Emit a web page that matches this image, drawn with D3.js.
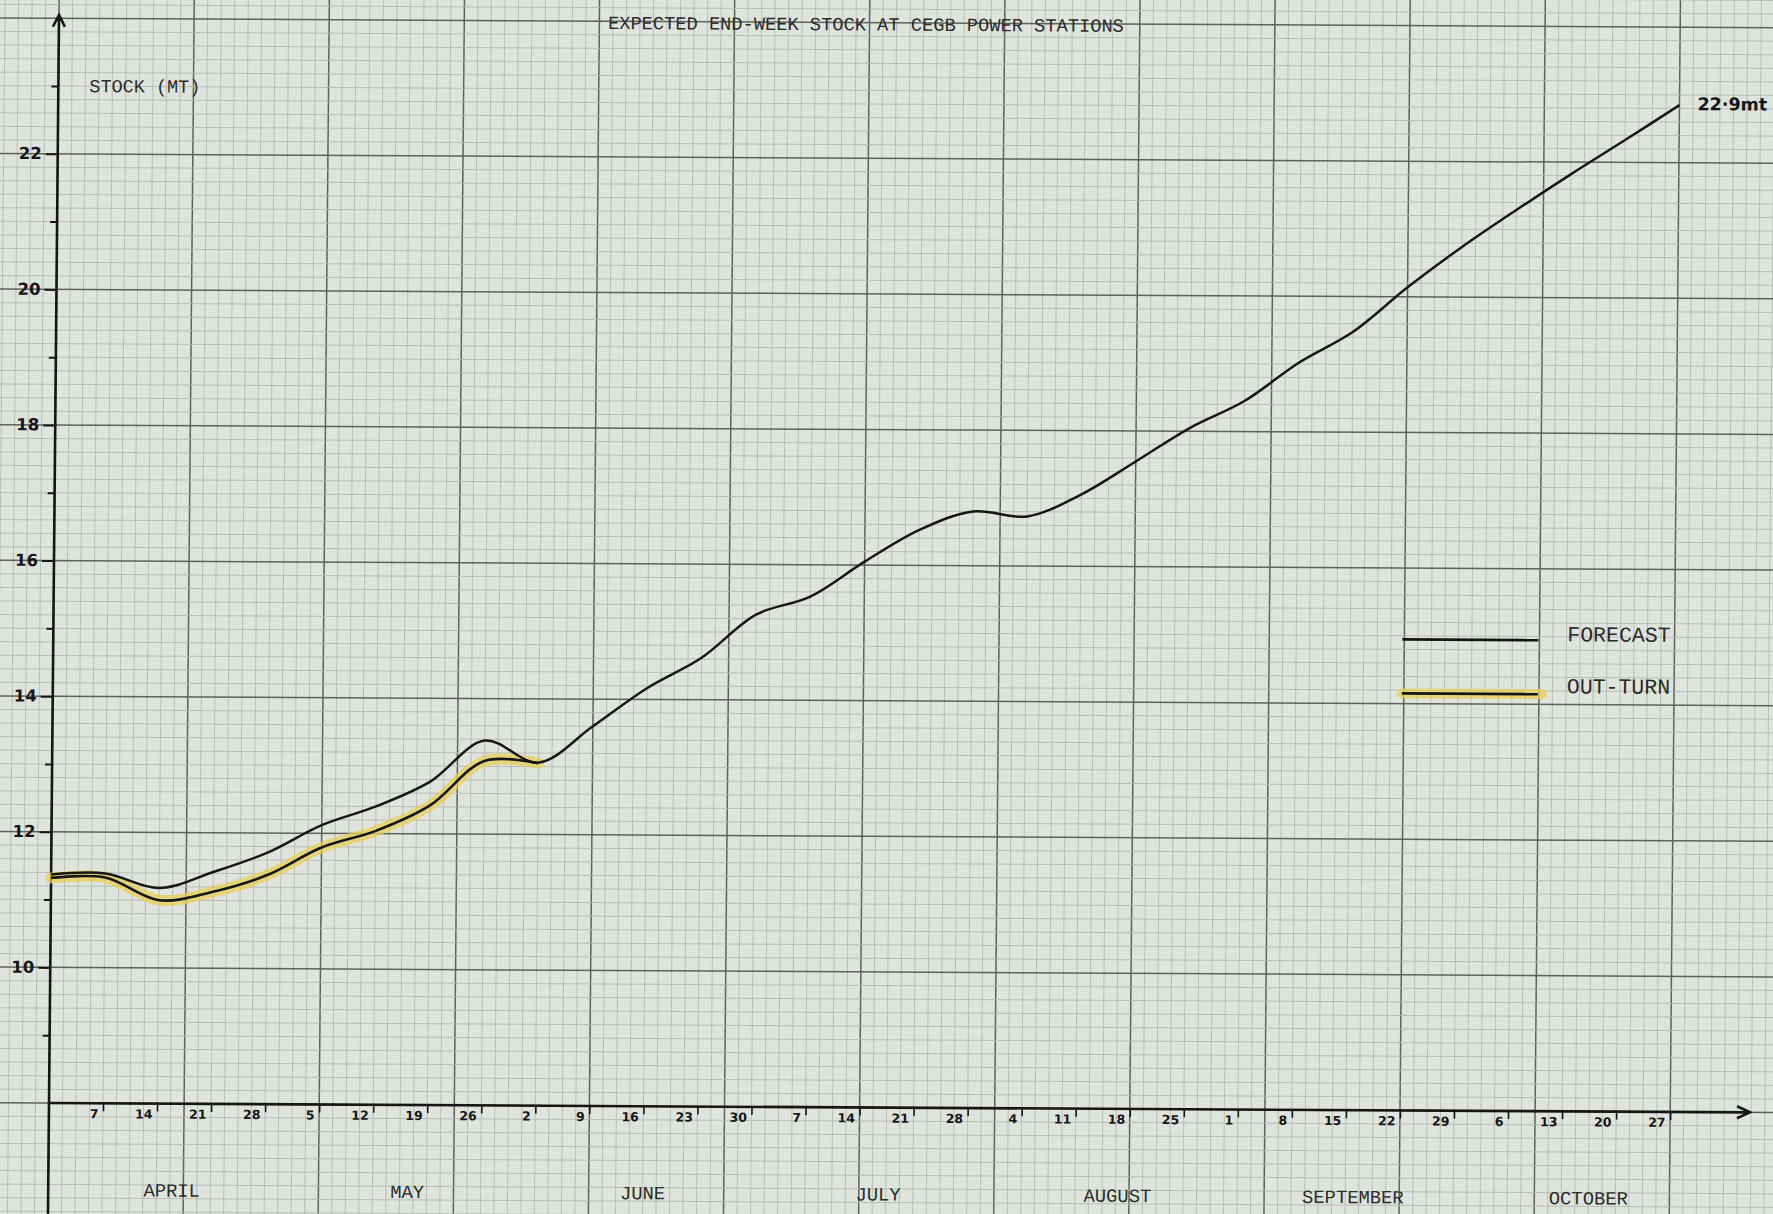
<!DOCTYPE html>
<html>
<head>
<meta charset="utf-8">
<script src="https://cdn.jsdelivr.net/npm/d3@7/dist/d3.min.js"></script>
<style>
  html, body { margin: 0; padding: 0; background: #dfe5dd; }
  svg { display: block; }
</style>
</head>
<body>
<div id="chart"></div>
<script>

// week-ending dates along the bottom axis
var weeks = ["1985-03-31", "1985-04-07", "1985-04-14", "1985-04-21", "1985-04-28",
  "1985-05-05", "1985-05-12", "1985-05-19", "1985-05-26", "1985-06-02",
  "1985-06-09", "1985-06-16", "1985-06-23", "1985-06-30", "1985-07-07",
  "1985-07-14", "1985-07-21", "1985-07-28", "1985-08-04", "1985-08-11",
  "1985-08-18", "1985-08-25", "1985-09-01", "1985-09-08", "1985-09-15",
  "1985-09-22", "1985-09-29", "1985-10-06", "1985-10-13", "1985-10-20",
  "1985-10-27"];

// expected end-week stock (million tonnes)
var forecast = [11.37, 11.39, 11.18, 11.42, 11.71, 12.12, 12.40, 12.77, 13.38, 13.06,
  13.60, 14.17, 14.62, 15.26, 15.53, 16.05, 16.52, 16.80, 16.73, 17.06,
  17.55, 18.05, 18.45, 19.02, 19.48, 20.14, 20.74, 21.29, 21.82, 22.33,
  22.85];

// actual out-turn so far
var outturn = [11.32, 11.33, 11.00, 11.13, 11.38, 11.79, 12.04, 12.42, 13.08, 13.05];

var months = ["APRIL", "MAY", "JUNE", "JULY", "AUGUST", "SEPTEMBER", "OCTOBER"];
var yLabels = [10, 12, 14, 16, 18, 20, 22];
var yMinor = [9, 11, 13, 15, 17, 19, 21, 23];
var endLabel = "22·9mt";

var drawGraph = function(){

  var width = 1773, height = 1214;
  var typeFont = "'Liberation Mono', 'DejaVu Sans Mono', monospace";
  var handFont = "'DejaVu Sans', sans-serif";
  var ink = "#161616";

  // graph paper: 1 small square ~13.5px, 4 squares a week, 5 squares a unit
  var mmX = 13.51, mmY = 13.56;

  var parse = d3.timeParse("%Y-%m-%d");
  var dates = weeks.map(parse);

  var x = d3.scaleTime()
    .domain([dates[0], dates[dates.length - 1]])
    .range([0, (dates.length - 1) * 4 * mmX]);

  var y = d3.scaleLinear()
    .domain([8, 22])
    .range([0, -14 * 5 * mmY]);

  var svg = d3.select("#chart")
    .append("svg")
    .attr("width", width)
    .attr("height", height)
    .style("background-color", "#dfe5dd");

  // the scan is a little skewed, so the whole sheet gets the same slant
  var sheet = svg.append("g")
    .attr("transform", "matrix(1, 0.0055, -0.0092, 1, 49, 1103)");

  // paper grid
  var grid = sheet.append("g");
  d3.range(-6, 133).forEach(function(i){
    grid.append("line")
      .attr("x1", i * mmX).attr("x2", i * mmX)
      .attr("y1", 140).attr("y2", -1280)
      .attr("stroke", i % 10 === 0 ? "#5d625c" : "#b4bab3")
      .attr("stroke-width", i % 10 === 0 ? 1.5 : 0.9);
  });
  d3.range(-10, 96).forEach(function(i){
    var yy = y(8 + i * 0.2);
    grid.append("line")
      .attr("x1", -100).attr("x2", 1800)
      .attr("y1", yy).attr("y2", yy)
      .attr("stroke", i % 10 === 0 ? "#5d625c" : "#b4bab3")
      .attr("stroke-width", i % 10 === 0 ? 1.5 : 0.9);
  });

  // axes lines with arrows
  var xEnd = 1701, yTop = y(24.05);
  sheet.append("path")
    .attr("d", "M0,125V" + yTop + "M-6," + (yTop + 12) + "L0," + yTop + "L6," + (yTop + 12))
    .attr("fill", "none").attr("stroke", ink).attr("stroke-width", 2.6);
  sheet.append("path")
    .attr("d", "M0,0H" + xEnd + "M" + (xEnd - 13) + ",-6L" + xEnd + ",0L" + (xEnd - 13) + ",6")
    .attr("fill", "none").attr("stroke", ink).attr("stroke-width", 2.6);

  // week ticks
  var xAxis = sheet.append("g")
    .call(d3.axisBottom(x)
      .tickValues(dates.slice(1))
      .tickSize(8)
      .tickFormat(function(d){ return d.getDate(); }));
  xAxis.select(".domain").remove();
  xAxis.selectAll(".tick line").attr("stroke", ink).attr("stroke-width", 1.6);
  xAxis.selectAll(".tick text")
    .attr("x", -5).attr("y", 15).attr("dy", 0)
    .attr("text-anchor", "end")
    .attr("font-family", handFont).attr("font-weight", "bold")
    .attr("font-size", 12.5).attr("fill", ink);

  // y ticks
  var yAxis = sheet.append("g")
    .call(d3.axisLeft(y).tickValues(yLabels).tickSize(12).tickPadding(4));
  yAxis.select(".domain").remove();
  yAxis.selectAll(".tick line").attr("stroke", ink).attr("stroke-width", 2);
  yAxis.selectAll(".tick text")
    .attr("font-family", handFont).attr("font-weight", "bold")
    .attr("font-size", 16.5).attr("fill", ink)
    .attr("dy", "0.3em");
  var yAxisMinor = sheet.append("g")
    .call(d3.axisLeft(y).tickValues(yMinor).tickSize(7).tickFormat(""));
  yAxisMinor.select(".domain").remove();
  yAxisMinor.selectAll(".tick line").attr("stroke", ink).attr("stroke-width", 2);

  // month names, typed under the middle of each month
  sheet.append("g").selectAll("text")
    .data(months)
    .enter().append("text")
    .attr("x", function(d, i){
      var a = new Date(1985, 3 + i, 1), b = new Date(1985, 4 + i, 1);
      return (x(a) + x(b)) / 2;
    })
    .attr("y", 93)
    .attr("text-anchor", "middle")
    .attr("font-family", typeFont).attr("font-size", 18.8)
    .attr("fill", "#2b2b2b")
    .text(function(d){ return d; });

  // titles
  sheet.append("text")
    .attr("x", 807).attr("y", -1077)
    .attr("text-anchor", "middle")
    .attr("font-family", typeFont).attr("font-size", 18.7)
    .attr("fill", "#2b2b2b")
    .text("EXPECTED END-WEEK STOCK AT CEGB POWER STATIONS");
  sheet.append("text")
    .attr("x", 31).attr("y", -1011)
    .attr("font-family", typeFont).attr("font-size", 18.5)
    .attr("fill", "#2b2b2b")
    .text("STOCK (MT)");

  var line = d3.line()
    .x(function(d){ return x(d[0]); })
    .y(function(d){ return y(d[1]); })
    .curve(d3.curveCatmullRom.alpha(0.5));

  var outData = outturn.map(function(v, i){ return [dates[i], v]; });
  var fcData = forecast.map(function(v, i){ return [dates[i], v]; });

  // yellow highlighter under the out-turn
  sheet.append("path")
    .attr("d", line(outData))
    .attr("fill", "none")
    .attr("stroke", "#e8cf55").attr("stroke-opacity", 0.75)
    .attr("stroke-width", 11).attr("stroke-linecap", "round");
  sheet.append("path")
    .attr("d", line(outData))
    .attr("fill", "none").attr("stroke", ink).attr("stroke-width", 2.6);

  sheet.append("path")
    .attr("d", line(fcData))
    .attr("fill", "none").attr("stroke", ink).attr("stroke-width", 2.5);

  var last = fcData[fcData.length - 1];
  sheet.append("text")
    .attr("x", x(last[0]) + 18).attr("y", y(last[1]) + 5)
    .attr("font-family", handFont).attr("font-weight", "bold")
    .attr("font-size", 17.5).attr("fill", ink)
    .text(endLabel);

  // legend
  var legend = sheet.append("g").attr("transform", "translate(1349,-471)");
  legend.append("line")
    .attr("x1", 0).attr("x2", 136).attr("y1", 0).attr("y2", 0)
    .attr("stroke", ink).attr("stroke-width", 2.6);
  legend.append("text")
    .attr("x", 165).attr("y", 1)
    .attr("font-family", typeFont).attr("font-size", 21.5)
    .attr("fill", "#2b2b2b").text("FORECAST");
  legend.append("line")
    .attr("x1", 0).attr("x2", 140).attr("y1", 54).attr("y2", 54)
    .attr("stroke", "#e8cf55").attr("stroke-opacity", 0.75)
    .attr("stroke-width", 10).attr("stroke-linecap", "round");
  legend.append("line")
    .attr("x1", 0).attr("x2", 136).attr("y1", 54).attr("y2", 54)
    .attr("stroke", ink).attr("stroke-width", 2.6);
  legend.append("text")
    .attr("x", 165).attr("y", 53)
    .attr("font-family", typeFont).attr("font-size", 21.5)
    .attr("fill", "#2b2b2b").text("OUT-TURN");
}

// call function to draw the graph
drawGraph();
</script>
</body>
</html>
